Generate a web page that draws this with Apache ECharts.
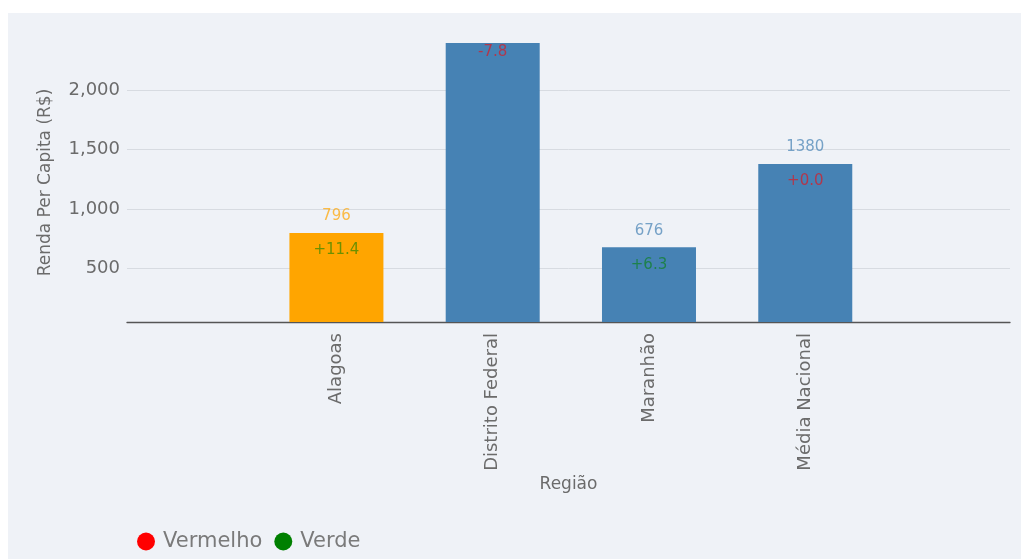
<!DOCTYPE html>
<html>
<head>
<meta charset="utf-8">
<script src="https://cdn.jsdelivr.net/npm/echarts@6/dist/echarts.min.js"></script>
<style>
  html, body { margin: 0; padding: 0; background: #ffffff; }
  #chart { position: absolute; left: 8px; top: 13px; width: 1013px; height: 546px; }
</style>
</head>
<body>
<div id="chart"></div>
<script>
// ---- data ----
const categories = ['Alagoas', 'Distrito Federal', 'Maranhão', 'Média Nacional'];
const rendaValues = [796, 2400, 676, 1380];
const changeValues = [11.4, -7.8, 6.3, 0.0];
const yTicks = [500, 1000, 1500, 2000];
const legendNames = ['Vermelho', 'Verde'];
const highlighted = 'Alagoas';

// ---- styles ----
const FONT = 'DejaVu Sans';
const TEXT = '#6b6b6b';
const ORANGE = '#ffa500', BLUE = '#4682b4';
const Y_MIN = 46, Y_MAX = 2400;

const chart = echarts.init(document.getElementById('chart'), null, { renderer: 'canvas' });

const barData = rendaValues.map((v, i) => {
  const c = categories[i] === highlighted ? ORANGE : BLUE;
  return {
    value: [i, v],
    itemStyle: { color: c },
    label: { color: c === ORANGE ? 'rgba(255,165,0,0.72)' : 'rgba(70,130,180,0.72)' }
  };
});

const changeData = changeValues.map((d, i) => {
  const atTop = rendaValues[i] >= Y_MAX;
  return {
    value: [i, rendaValues[i]],
    label: {
      color: d > 0 ? 'rgba(0,128,0,0.72)' : 'rgba(255,0,0,0.72)',
      distance: atTop ? 2 : 10
    },
    txt: (d >= 0 ? '+' : '') + d.toFixed(1)
  };
});

chart.setOption({
  backgroundColor: '#eff2f7',
  textStyle: { fontFamily: FONT },
  grid: { left: 119, right: 11, top: 30, bottom: 237 },
  legend: {
    data: legendNames,
    left: 124,
    top: 513,
    icon: 'circle',
    itemWidth: 18,
    itemHeight: 18,
    itemGap: 12,
    textStyle: { fontFamily: FONT, fontSize: 21, color: '#7a7a7a', padding: [0, 0, 0, 3] }
  },
  xAxis: {
    type: 'value',
    min: -1.34,
    max: 4.31,
    name: 'Região',
    nameLocation: 'middle',
    nameGap: 154,
    nameMoveOverlap: false,
    nameTextStyle: { fontFamily: FONT, fontSize: 17, color: TEXT },
    splitLine: { show: false },
    axisTick: { show: false },
    axisLine: { show: true, onZero: false, lineStyle: { color: '#555', width: 1.3 } },
    axisLabel: {
      customValues: categories.map((c, i) => i),
      formatter: v => categories[Math.round(v)] || '',
      rotate: 90,
      margin: 11,
      fontFamily: FONT,
      fontSize: 18,
      color: TEXT
    }
  },
  yAxis: {
    type: 'value',
    min: Y_MIN,
    max: Y_MAX,
    splitNumber: 5,
    name: 'Renda Per Capita (R$)',
    nameLocation: 'middle',
    nameGap: 73,
    nameMoveOverlap: false,
    nameTextStyle: { fontFamily: FONT, fontSize: 17, color: TEXT },
    axisLine: { show: false },
    axisTick: { show: false },
    splitLine: { show: true, showMinLine: false, showMaxLine: false, lineStyle: { color: '#d7dbe1', width: 1 } },
    axisLabel: {
      formatter: v => yTicks.includes(v) ? v.toLocaleString('en-US') : '',
      margin: 7,
      fontFamily: FONT,
      fontSize: 18,
      color: TEXT
    }
  },
  series: [
    {
      type: 'bar',
      name: 'Renda',
      data: barData,
      barWidth: 94,
      label: {
        show: true,
        position: 'top',
        distance: 9,
        fontFamily: FONT,
        fontSize: 15,
        formatter: p => p.value[1] >= Y_MAX ? '' : String(p.value[1])
      },
      silent: true
    },
    {
      type: 'scatter',
      name: 'Variação',
      data: changeData,
      symbolSize: 0,
      label: {
        show: true,
        position: 'bottom',
        fontFamily: FONT,
        fontSize: 15,
        formatter: p => p.data.txt
      },
      silent: true,
      z: 5
    },
    { type: 'scatter', name: legendNames[0], data: [], itemStyle: { color: '#ff0000', opacity: 1 } },
    { type: 'scatter', name: legendNames[1], data: [], itemStyle: { color: '#008000', opacity: 1 } }
  ]
});
</script>
</body>
</html>
